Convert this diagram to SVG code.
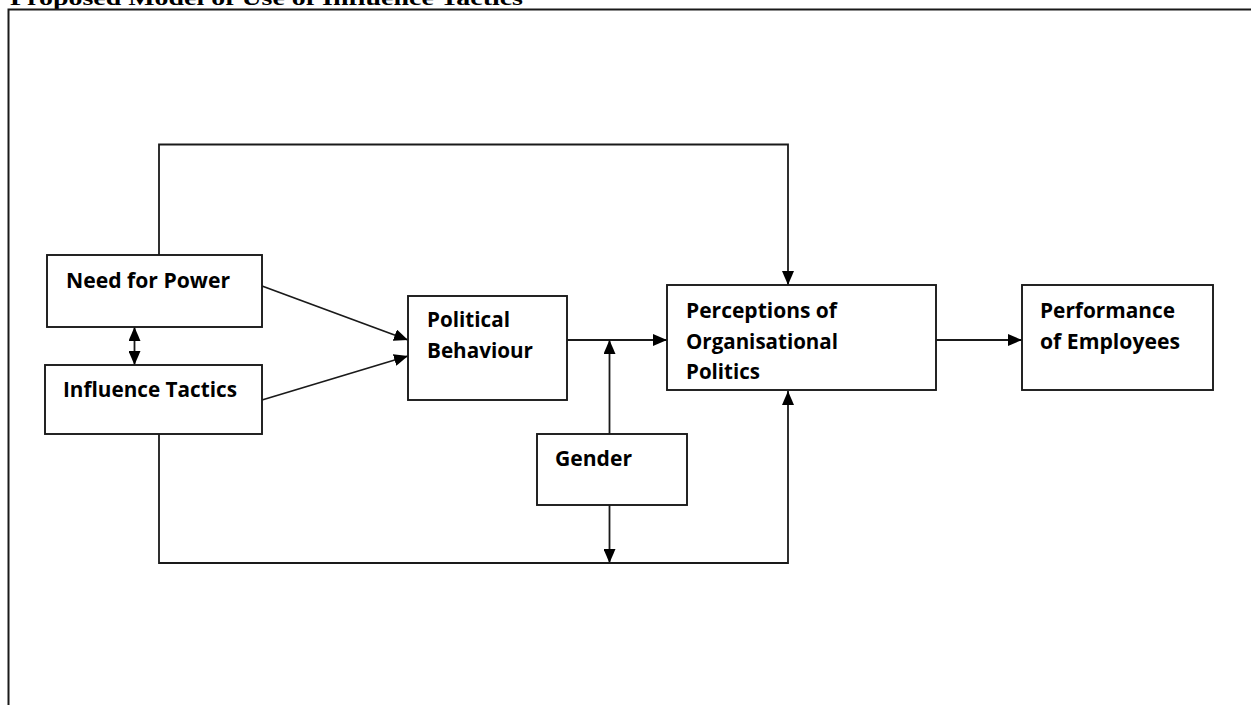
<svg xmlns="http://www.w3.org/2000/svg" width="1251" height="705" viewBox="0 0 1251 705">
  <style>
    .box { fill: #ffffff; stroke: #1a1a1a; stroke-width: 1.9; }
    .lbl { font-family: "Open Sans", "Liberation Sans", sans-serif; font-weight: bold; font-size: 21px; fill: #000000; }
    .con { fill: none; stroke: #1a1a1a; stroke-width: 1.8; }
    .title { font-family: "Liberation Serif", "DejaVu Serif", serif; font-weight: bold; font-size: 22px; fill: #000000; }
  </style>
  <defs>
    <marker id="arr" markerUnits="userSpaceOnUse" markerWidth="14" markerHeight="12" refX="14" refY="6" orient="auto-start-reverse">
      <path d="M0,0 L14,6 L0,12 z" fill="#000000"/>
    </marker>
  </defs>
  <rect width="1251" height="705" fill="#ffffff"/>
  <text class="title" x="10" y="5" textLength="513" lengthAdjust="spacingAndGlyphs">Proposed Model of Use of Influence Tactics</text>
  <path d="M8.5,705 V9.5 H1251" fill="none" stroke="#1a1a1a" stroke-width="2"/>

  <g id="connectors">
    <path class="con" d="M159,255 V144.5 H788 V285" marker-end="url(#arr)"/>
    <line class="con" x1="262" y1="286" x2="408" y2="340" marker-end="url(#arr)"/>
    <line class="con" x1="262" y1="400" x2="408" y2="356" marker-end="url(#arr)"/>
    <line class="con" x1="134.5" y1="327" x2="134.5" y2="365" marker-start="url(#arr)" marker-end="url(#arr)"/>
    <line class="con" x1="567" y1="340" x2="667" y2="340" marker-end="url(#arr)"/>
    <line class="con" x1="609.5" y1="434" x2="609.5" y2="340" marker-end="url(#arr)"/>
    <line class="con" x1="609.5" y1="505" x2="609.5" y2="563" marker-end="url(#arr)"/>
    <path class="con" d="M159,434 V563 H788 V391" marker-end="url(#arr)"/>
    <line class="con" x1="936" y1="340" x2="1022" y2="340" marker-end="url(#arr)"/>
  </g>

  <g id="need-for-power">
    <rect class="box" x="47" y="255" width="215" height="72"/>
    <text class="lbl" x="66" y="288" textLength="164" lengthAdjust="spacingAndGlyphs">Need for Power</text>
  </g>
  <g id="influence-tactics">
    <rect class="box" x="45" y="365" width="217" height="69"/>
    <text class="lbl" x="63" y="397" textLength="174" lengthAdjust="spacingAndGlyphs">Influence Tactics</text>
  </g>
  <g id="political-behaviour">
    <rect class="box" x="408" y="296" width="159" height="104"/>
    <text class="lbl" x="427" y="327" textLength="83" lengthAdjust="spacingAndGlyphs">Political</text>
    <text class="lbl" x="427" y="358" textLength="106" lengthAdjust="spacingAndGlyphs">Behaviour</text>
  </g>
  <g id="perceptions">
    <rect class="box" x="667" y="285" width="269" height="105"/>
    <text class="lbl" x="686" y="318" textLength="151" lengthAdjust="spacingAndGlyphs">Perceptions of</text>
    <text class="lbl" x="686" y="349" textLength="152" lengthAdjust="spacingAndGlyphs">Organisational</text>
    <text class="lbl" x="686" y="379" textLength="74" lengthAdjust="spacingAndGlyphs">Politics</text>
  </g>
  <g id="performance">
    <rect class="box" x="1022" y="285" width="191" height="105"/>
    <text class="lbl" x="1040" y="318" textLength="135" lengthAdjust="spacingAndGlyphs">Performance</text>
    <text class="lbl" x="1040" y="349" textLength="140" lengthAdjust="spacingAndGlyphs">of Employees</text>
  </g>
  <g id="gender">
    <rect class="box" x="537" y="434" width="150" height="71"/>
    <text class="lbl" x="555" y="466" textLength="77" lengthAdjust="spacingAndGlyphs">Gender</text>
  </g>
</svg>
